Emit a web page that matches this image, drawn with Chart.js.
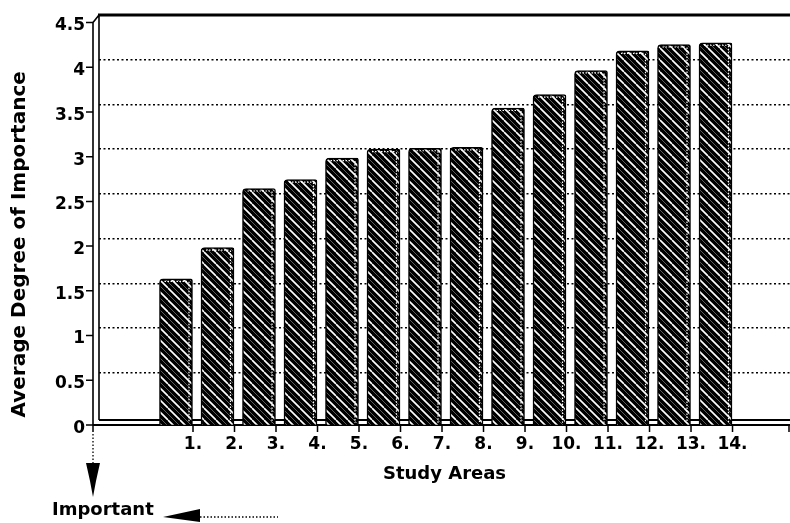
<!DOCTYPE html>
<html>
<head>
<meta charset="utf-8">
<script src="https://cdn.jsdelivr.net/npm/chart.js@4.4.1/dist/chart.umd.min.js"></script>
<style>
  html, body { margin: 0; padding: 0; background: #fff; }
  #wrap { width: 790px; height: 523px; position: relative; }
</style>
</head>
<body>
<div id="wrap"><canvas id="c" width="790" height="523"></canvas></div>
<script>
// Study areas along the x axis and their average degree of importance
const studyAreas = ['1.', '2.', '3.', '4.', '5.', '6.', '7.', '8.', '9.', '10.', '11.', '12.', '13.', '14.'];
const areaIndex = [1, 2, 3, 4, 5, 6, 7, 8, 9, 10, 11, 12, 13, 14];
const avgImportance = [1.55, 1.9, 2.56, 2.66, 2.9, 3.0, 3.01, 3.02, 3.46, 3.61, 3.88, 4.1, 4.17, 4.19];
const yTicks = [0, 0.5, 1, 1.5, 2, 2.5, 3, 3.5, 4, 4.5];
const yTickLabels = ['0', '0.5', '1', '1.5', '2', '2.5', '3', '3.5', '4', '4.5'];

const FONT = '"DejaVu Sans", "Liberation Sans", sans-serif';
const DEPTH_X = 6;      // 3-D wall depth, horizontal
const DEPTH_Y = 7.5;    // 3-D wall depth, vertical
const TICK_SHIFT = 0.41; // category tick sits at the right edge of its bar

const canvas = document.getElementById('c');
const mainCtx = canvas.getContext('2d');

// black fill with white diagonal hatching
function hatchPattern() {
  const s = 12;
  const tile = document.createElement('canvas');
  tile.width = s; tile.height = s;
  const g = tile.getContext('2d');
  g.fillStyle = '#000';
  g.fillRect(0, 0, s, s);
  g.strokeStyle = '#fff';
  g.lineWidth = 1.6;
  g.beginPath();
  for (const o of [-s, 0, s]) { g.moveTo(o, 0); g.lineTo(o + s, s); }
  g.stroke();
  g.strokeStyle = '#666';
  g.lineWidth = 0.9;
  g.beginPath();
  for (const o of [-s - 6, -6, 6]) { g.moveTo(o, 0); g.lineTo(o + s, s); }
  g.stroke();
  return mainCtx.createPattern(tile, 'repeat');
}

// walls, floor, tick marks of the 3-D frame (behind the bars)
const framePlugin = {
  id: 'frame3d',
  beforeDatasetsDraw(chart) {
    const { ctx, chartArea: ca, scales: { x, y } } = chart;
    const y0 = y.getPixelForValue(0);
    const fx = ca.left - DEPTH_X;
    const floorBack = y0 + 2.5;
    const floorFront = y0 + DEPTH_Y;
    ctx.save();
    ctx.strokeStyle = '#000';
    ctx.lineCap = 'butt';

    // top edge of the back wall
    ctx.lineWidth = 3;
    ctx.beginPath();
    ctx.moveTo(ca.left - 1, ca.top);
    ctx.lineTo(ca.right, ca.top);
    ctx.stroke();

    ctx.lineWidth = 1.6;
    ctx.beginPath();
    // inner wall edge
    ctx.moveTo(ca.left, ca.top);
    ctx.lineTo(ca.left, floorBack);
    // front wall edge with slanted top corner
    ctx.moveTo(ca.left, ca.top);
    ctx.lineTo(fx, ca.top + DEPTH_Y);
    ctx.lineTo(fx, floorFront);
    ctx.stroke();

    // floor, back and front edges
    ctx.lineWidth = 1.8;
    ctx.beginPath();
    ctx.moveTo(ca.left, floorBack);
    ctx.lineTo(ca.right, floorBack);
    ctx.moveTo(fx, floorFront);
    ctx.lineTo(ca.right, floorFront);
    ctx.stroke();

    // y tick marks on the front wall
    ctx.lineWidth = 1.5;
    ctx.beginPath();
    yTicks.forEach(v => {
      const py = y.getPixelForValue(v) + DEPTH_Y;
      ctx.moveTo(fx - 7, py);
      ctx.lineTo(fx, py);
    });
    // x tick marks below the floor
    const xs = [fx].concat(x.ticks.map(t => x.getPixelForValue(t.value)), [ca.right - 1]);
    xs.forEach(px => {
      ctx.moveTo(px, floorFront);
      ctx.lineTo(px, floorFront + 7);
    });
    ctx.stroke();
    ctx.restore();
  },
  afterDatasetsDraw(chart) {
    const { ctx } = chart;
    const meta = chart.getDatasetMeta(0);
    ctx.save();
    ctx.strokeStyle = '#fff';
    ctx.lineWidth = 1.2;
    ctx.setLineDash([1.5, 1.5]);
    meta.data.forEach(bar => {
      const { x, y, width, base } = bar.getProps(['x', 'y', 'width', 'base'], true);
      const l = x - width / 2, r = x + width / 2;
      ctx.beginPath();
      ctx.moveTo(r - 3.5, y + 3);
      ctx.lineTo(r - 3.5, base - 2);
      ctx.moveTo(l + 5, y + 2.5);
      ctx.lineTo(r - 5, y + 2.5);
      ctx.stroke();
    });
    ctx.restore();
  },
  afterDraw(chart) {
    const { ctx, chartArea: ca, scales: { y } } = chart;
    const fx = ca.left - DEPTH_X;
    const floorFront = y.getPixelForValue(0) + DEPTH_Y;
    ctx.save();
    ctx.fillStyle = '#000';
    ctx.strokeStyle = '#000';

    // dotted lead down from the origin
    ctx.lineWidth = 1.3;
    ctx.setLineDash([1.5, 2]);
    ctx.beginPath();
    ctx.moveTo(fx, floorFront + 9);
    ctx.lineTo(fx, 463);
    ctx.stroke();
    // down arrow head
    ctx.setLineDash([]);
    ctx.beginPath();
    ctx.moveTo(fx - 7, 463);
    ctx.lineTo(fx + 7, 463);
    ctx.lineTo(fx + 3, 481);
    ctx.lineTo(fx, 497);
    ctx.lineTo(fx - 3, 481);
    ctx.closePath();
    ctx.fill();

    // label and left-pointing arrow
    ctx.font = 'bold 18px ' + FONT;
    ctx.textBaseline = 'alphabetic';
    ctx.textAlign = 'left';
    ctx.fillText('Important', 52, 515);

    ctx.beginPath();
    ctx.moveTo(163, 517);
    ctx.lineTo(200, 509);
    ctx.lineTo(200, 522);
    ctx.closePath();
    ctx.fill();
    ctx.lineWidth = 1.3;
    ctx.setLineDash([1.5, 2]);
    ctx.beginPath();
    ctx.moveTo(200, 517);
    ctx.lineTo(278, 517);
    ctx.stroke();
    ctx.restore();
  }
};

new Chart(canvas, {
  type: 'bar',
  data: {
    datasets: [{
      data: areaIndex.map((v, i) => ({ x: v, y: avgImportance[i] })),
      backgroundColor: hatchPattern(),
      borderColor: '#000',
      borderWidth: 1.5,
      borderSkipped: 'bottom',
      borderRadius: { topLeft: 4, topRight: 2, bottomLeft: 0, bottomRight: 0 },
      barThickness: 33,
      base: -0.08,
      clip: false
    }]
  },
  options: {
    responsive: false,
    devicePixelRatio: 1,
    animation: false,
    events: [],
    layout: { padding: { top: 15, right: 0, bottom: 0, left: 0 } },
    plugins: { legend: { display: false }, tooltip: { enabled: false }, title: { display: false } },
    scales: {
      x: {
        type: 'linear',
        min: -0.855,
        max: 15.795,
        offset: false,
        grid: { display: false, drawTicks: false, offset: false },
        border: { display: false },
        afterBuildTicks: s => { s.ticks = areaIndex.map(v => ({ value: v + TICK_SHIFT })); },
        afterFit: s => { s.height = 105.5; s.paddingLeft = 0; s.paddingRight = 0; },
        ticks: {
          autoSkip: false,
          maxRotation: 0,
          padding: 17,
          color: '#000',
          font: { family: FONT, size: 17, weight: 'bold' },
          callback: (v, i) => studyAreas[i]
        },
        title: {
          display: true,
          text: 'Study Areas',
          color: '#000',
          font: { family: FONT, size: 18, weight: 'bold' },
          padding: { top: 0, bottom: 38 }
        }
      },
      y: {
        min: 0,
        max: 4.5,
        afterBuildTicks: s => { s.ticks = yTicks.map(v => ({ value: v })); },
        afterFit: s => { s.width = 99; s.paddingTop = 0; s.paddingBottom = 0; },
        grid: {
          drawTicks: false,
          lineWidth: 1.5,
          color: c => (c.tick && (c.tick.value === 0 || c.tick.value === 4.5)) ? 'rgba(0,0,0,0)' : '#000'
        },
        border: { display: false, dash: [2, 2.5] },
        ticks: {
          padding: 14,
          labelOffset: 11,
          color: '#000',
          font: { family: FONT, size: 17, weight: 'bold' },
          callback: (v, i) => yTickLabels[i]
        },
        title: {
          display: true,
          text: 'Average Degree of Importance',
          align: 'start',
          color: '#000',
          font: { family: FONT, size: 20, weight: 'bold' },
          padding: { top: 8, bottom: 0 }
        }
      }
    }
  },
  plugins: [framePlugin]
});
</script>
</body>
</html>
